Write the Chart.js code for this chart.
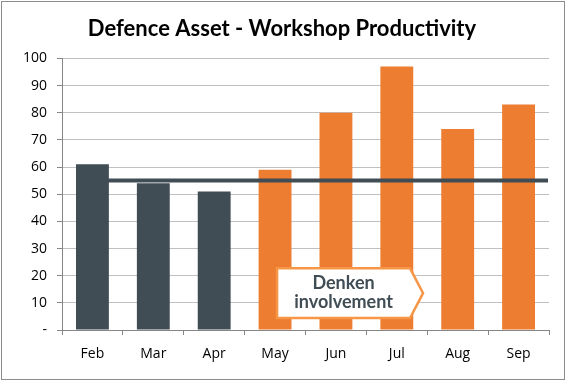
<!DOCTYPE html>
<html>
<head>
<meta charset="utf-8">
<script src="https://cdn.jsdelivr.net/npm/chart.js@4/dist/chart.umd.min.js"></script>
<style>
  html, body { margin: 0; padding: 0; background: #fff; }
  #wrap { width: 566px; height: 381px; }
</style>
</head>
<body>
<div id="wrap"><canvas id="chart" width="566" height="381"></canvas></div>
<script>
// data
const months = ['Feb', 'Mar', 'Apr', 'May', 'Jun', 'Jul', 'Aug', 'Sep'];
const productivity = [61, 54, 51, 59, 80, 97, 74, 83];
const baseline = [55];
const yTicks = [0, 10, 20, 30, 40, 50, 60, 70, 80, 90, 100];
const involvementStart = 'May';

const DARK = '#414D55';
const ORANGE = '#ED7D31';

// baseline line + callout box + outer frame
const extras = {
  id: 'extras',
  afterDatasetsDraw(chart) {
    const { ctx, chartArea } = chart;
    const x = chart.scales.x, y = chart.scales.y;
    const bar = chart.getDatasetMeta(0).data[0];

    // baseline
    const ly = y.getPixelForValue(baseline[0]);
    ctx.save();
    ctx.strokeStyle = DARK;
    ctx.lineWidth = 4;
    ctx.beginPath();
    ctx.moveTo(bar.x - bar.width / 2, ly);
    ctx.lineTo(chartArea.right - 1, ly);
    ctx.stroke();

    // callout
    const left = x.getPixelForValue(months.indexOf(involvementStart)) + 2;
    const right = left + 146;
    const top = y.getPixelForValue(22.7);
    const bottom = y.getPixelForValue(4.4);
    const mid = (top + bottom) / 2;
    ctx.beginPath();
    ctx.moveTo(left, top);
    ctx.lineTo(right - 13, top);
    ctx.lineTo(right, mid);
    ctx.lineTo(right - 13, bottom);
    ctx.lineTo(left, bottom);
    ctx.closePath();
    ctx.fillStyle = '#fff';
    ctx.fill();
    ctx.strokeStyle = '#F79646';
    ctx.lineWidth = 2.5;
    ctx.stroke();
    ctx.fillStyle = DARK;
    ctx.font = 'bold 18px Lato, "Open Sans", sans-serif';
    ctx.textAlign = 'center';
    ctx.textBaseline = 'middle';
    const cx = (left + right - 13) / 2;
    ctx.fillText('Denken', cx, mid - 10);
    ctx.fillText('involvement', cx, mid + 9);

    // frame
    ctx.strokeStyle = '#8c8c8c';
    ctx.lineWidth = 1;
    ctx.strokeRect(1.5, 1.5, chart.width - 3, chart.height - 3);
    ctx.restore();
  }
};

new Chart(document.getElementById('chart'), {
  type: 'bar',
  data: {
    labels: months,
    datasets: [{
      data: productivity,
      backgroundColor: c => c.dataIndex >= months.indexOf(involvementStart) ? ORANGE : DARK,
      borderWidth: 0,
      categoryPercentage: 1,
      barPercentage: 0.54
    }]
  },
  options: {
    responsive: false,
    animation: false,
    layout: { padding: { left: 15, right: 17, top: 0, bottom: 0 } },
    plugins: {
      legend: { display: false },
      tooltip: { enabled: false },
      title: {
        display: true,
        text: 'Defence Asset - Workshop Productivity',
        color: '#000',
        font: { family: 'Lato, "Open Sans", sans-serif', size: 22, weight: 'bold' },
        padding: { top: 16, bottom: 16 }
      }
    },
    scales: {
      x: {
        grid: { offset: true, drawOnChartArea: false, color: '#868686', tickLength: 5 },
        border: { color: '#868686' },
        ticks: { color: '#000', font: { family: '"Open Sans", Lato, sans-serif', size: 14 }, padding: 11 },
        afterFit(s) { s.height = 51; }
      },
      y: {
        min: 0,
        max: 100,
        afterBuildTicks(s) { s.ticks = yTicks.map(v => ({ value: v })); },
        grid: { color: '#C0C0C0', tickLength: 5, tickColor: '#868686' },
        border: { color: '#868686' },
        ticks: {
          color: '#000',
          font: { family: '"Open Sans", Lato, sans-serif', size: 14 },
          padding: 10,
          callback: v => v === 0 ? '-' : v
        },
        afterFit(s) { s.width = 47; }
      }
    }
  },
  plugins: [extras]
});
</script>
</body>
</html>
